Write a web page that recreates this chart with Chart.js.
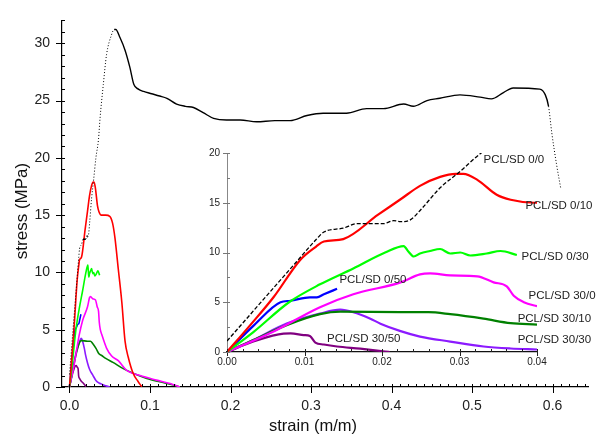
<!DOCTYPE html>
<html>
<head>
<meta charset="utf-8">
<script src="https://cdn.jsdelivr.net/npm/chart.js@4/dist/chart.umd.min.js"></script>
<style>
	html, body { margin: 0; padding: 0; background: #fff; }
	#wrap { position: relative; width: 597px; height: 437px; background: #fff; }
	#main { position: absolute; left: 0; top: 0; }
	#inset { position: absolute; left: 180px; top: 140px; }
</style>
</head>
<body>
<div id="wrap">
	<canvas id="main" width="597" height="437"></canvas>
	<canvas id="inset" width="417" height="235"></canvas>
</div>
<script>
// === Data ===

const seriesNames = ['PCL/SD 0/0', 'PCL/SD 0/10', 'PCL/SD 0/30', 'PCL/SD 0/50',
	'PCL/SD 30/0', 'PCL/SD 30/10', 'PCL/SD 30/30', 'PCL/SD 30/50'];
const seriesColors = ['#000000', '#ff0000', '#00ff00', '#0000ff',
	'#ff00ff', '#008000', '#8c1aff', '#800080'];

// [strain, stress]
const pcl_0_0 = [[0, 1.1], [0.009, 9.1], [0.0115, 11.3], [0.0125, 12.06], [0.015, 12.45], [0.0168, 12.9],
	[0.0202, 12.9], [0.0215, 13.2], [0.0224, 13.1], [0.0237, 13.3], [0.025, 14.3], [0.0275, 16.5],
	[0.030, 18.1], [0.0328, 20.0], [0.036, 21.6], [0.038, 23.5], [0.042, 26.4], [0.046, 29.0],
	[0.052, 30.7], [0.0555, 31.2], [0.0575, 31.2], [0.0627, 30.5], [0.069, 29.4], [0.075, 27.9],
	[0.080, 26.4], [0.0855, 26.0], [0.092, 25.8], [0.102, 25.6], [0.112, 25.4], [0.121, 25.2],
	[0.133, 24.7], [0.144, 24.5], [0.154, 24.4], [0.166, 23.95], [0.179, 23.45], [0.195, 23.3],
	[0.212, 23.3], [0.2325, 23.15], [0.255, 23.25], [0.274, 23.25], [0.295, 23.7], [0.315, 23.9],
	[0.344, 23.9], [0.369, 24.3], [0.390, 24.3], [0.415, 24.7], [0.427, 24.5], [0.444, 25.0],
	[0.460, 25.2], [0.485, 25.5], [0.510, 25.3], [0.524, 25.15], [0.539, 25.7], [0.551, 26.1],
	[0.584, 26.0], [0.591, 25.5], [0.595, 24.5], [0.599, 22.2], [0.605, 19.4], [0.610, 17.4]];
const pcl_0_10 = [[0, 0], [0.003, 2.7], [0.006, 5.5], [0.0095, 9.3], [0.0115, 10.6], [0.0125, 11.1],
	[0.015, 11.35], [0.0195, 13.8], [0.0224, 15.35], [0.0249, 16.7], [0.0275, 17.6], [0.0295, 17.9],
	[0.0305, 17.9], [0.0323, 17.3], [0.0348, 15.8], [0.0366, 15.3], [0.0396, 15.0], [0.045, 15.0],
	[0.050, 14.9], [0.0535, 14.3], [0.0565, 13.0], [0.0606, 10.3], [0.065, 7.4], [0.069, 4.0],
	[0.073, 2.6], [0.079, 1.2], [0.085, 0.5], [0.090, 0]];
const pcl_0_30 = [[0, 0], [0.0034, 2.0], [0.008, 5.0], [0.012, 6.8], [0.0163, 8.4], [0.0204, 10.0],
	[0.0228, 10.65], [0.0234, 10.1], [0.0241, 9.6], [0.0249, 9.9], [0.0262, 10.15], [0.0275, 10.35],
	[0.0288, 9.9], [0.0301, 10.0], [0.0314, 9.7], [0.0335, 9.9], [0.0353, 10.15], [0.0374, 9.75]];
const pcl_0_50 = [[0, 0], [0.0035, 2.7], [0.0069, 5.0], [0.0082, 5.15], [0.0107, 5.5], [0.0116, 5.5],
	[0.0125, 5.8], [0.0142, 6.35]];
const pcl_30_0 = [[0, 0], [0.0056, 1.9], [0.012, 4.5], [0.0163, 5.8], [0.0224, 7.0], [0.0249, 7.8],
	[0.0262, 7.9], [0.0288, 7.7], [0.0323, 7.6], [0.0344, 7.0], [0.0361, 6.6], [0.037, 5.65],
	[0.0383, 5.0], [0.040, 4.6], [0.046, 3.4], [0.0524, 2.7], [0.0606, 2.3], [0.071, 1.45],
	[0.0876, 1.0], [0.108, 0.6], [0.125, 0.3], [0.137, 0]];
const pcl_30_10 = [[0, 0], [0.0034, 1.2], [0.0077, 2.7], [0.012, 3.8], [0.0146, 4.05], [0.0224, 4.0],
	[0.026, 4.0], [0.0288, 3.8], [0.0331, 3.35], [0.0366, 2.9], [0.040, 2.75], [0.045, 2.5],
	[0.054, 2.15], [0.0668, 1.6], [0.079, 1.2], [0.096, 0.75], [0.112, 0.45], [0.129, 0.17], [0.137, 0]];
const pcl_30_30 = [[0, 0], [0.0034, 1.2], [0.0077, 2.85], [0.012, 3.85], [0.0146, 4.25], [0.0163, 4.0],
	[0.0185, 3.35], [0.0198, 2.85], [0.0224, 2.1], [0.0249, 1.55], [0.0288, 1.05], [0.0331, 0.55],
	[0.0366, 0.35], [0.040, 0.25], [0.045, 0.1], [0.050, 0]];
const pcl_30_50 = [[0, 0], [0.0034, 1.05], [0.0073, 1.85], [0.0082, 1.87], [0.0099, 1.7], [0.0107, 1.6],
	[0.0114, 0.95], [0.0125, 0.75], [0.0142, 0.55], [0.0172, 0.33], [0.0204, 0.05], [0.021, 0]];

const seriesData = [pcl_0_0, pcl_0_10, pcl_0_30, pcl_0_50, pcl_30_0, pcl_30_10, pcl_30_30, pcl_30_50];

const mainXTicks = [0, 0.1, 0.2, 0.3, 0.4, 0.5, 0.6];
const mainYTicks = [0, 5, 10, 15, 20, 25, 30];
const insetXTicks = [0, 0.01, 0.02, 0.03, 0.04];
const insetYTicks = [0, 5, 10, 15, 20];

// where each series name sits in the inset, [strain, stress]
const labelAnchors = [[0.0331, 19.3], [0.0385, 14.7], [0.038, 9.6], [0.0145, 7.3],
	[0.0389, 5.65], [0.0375, 3.3], [0.0375, 1.2], [0.0129, 1.3]];


// === Plugins ===

const FONT = '"Liberation Sans", Arial, sans-serif';
Chart.defaults.font.family = FONT;
Chart.defaults.color = '#222';

function stepValues(scale, step) {
	const out = [];
	for (let i = Math.ceil(scale.min / step - 1e-6); i * step <= scale.max + 1e-9; i++)
		out.push(i * step);
	return out;
}

// major ticks outward, minor ticks inward
const axisTicks = {
	id: 'axisTicks',
	afterDraw(chart, args, o) {
		const { ctx, chartArea: a, scales: { x, y } } = chart;
		ctx.save();
		ctx.lineWidth = 1;
		ctx.strokeStyle = o.xColor;
		ctx.beginPath();
		stepValues(x, o.xMinor).forEach(v => {
			const px = Math.round(x.getPixelForValue(v)) + 0.5;
			ctx.moveTo(px, a.bottom);
			ctx.lineTo(px, a.bottom - o.minorLen);
		});
		x.ticks.forEach(t => {
			const px = Math.round(x.getPixelForValue(t.value)) + 0.5;
			ctx.moveTo(px, a.bottom);
			ctx.lineTo(px, a.bottom + o.majorLen);
		});
		ctx.stroke();
		ctx.strokeStyle = o.yColor;
		ctx.beginPath();
		stepValues(y, o.yMinor).forEach(v => {
			const py = Math.round(y.getPixelForValue(v)) + 0.5;
			ctx.moveTo(a.left, py);
			ctx.lineTo(a.left + o.minorLen, py);
		});
		y.ticks.forEach(t => {
			const py = Math.round(y.getPixelForValue(t.value)) + 0.5;
			ctx.moveTo(a.left, py);
			ctx.lineTo(a.left - o.majorLen, py);
		});
		ctx.stroke();
		ctx.restore();
	}
};

const axisTitles = {
	id: 'axisTitles',
	afterDraw(chart) {
		const ctx = chart.ctx;
		ctx.save();
		ctx.fillStyle = '#111';
		ctx.textAlign = 'center';
		ctx.textBaseline = 'middle';
		ctx.font = '16.5px ' + FONT;
		ctx.fillText('strain (m/m)', 313, 426);
		ctx.translate(22, 211);
		ctx.rotate(-Math.PI / 2);
		ctx.font = '17px ' + FONT;
		ctx.fillText('stress (MPa)', 0, 0);
		ctx.restore();
	}
};

const seriesLabels = {
	id: 'seriesLabels',
	afterDraw(chart) {
		const { ctx, scales: { x, y } } = chart;
		ctx.save();
		ctx.font = '11.5px ' + FONT;
		ctx.fillStyle = '#222';
		ctx.textBaseline = 'middle';
		labelAnchors.forEach((p, i) => {
			ctx.fillText(seriesNames[i], x.getPixelForValue(p[0]), y.getPixelForValue(p[1]));
		});
		ctx.restore();
	}
};


// === Charts ===

// thin dotted where the black curve climbs or drops steeply
function isSteep(c) {
	const dx = Math.abs(c.p1.x - c.p0.x);
	const dy = c.p0.y - c.p1.y;
	return (dy > 1.5 * dx) || (Math.abs(dy) > 5 * dx);
}

function makeDatasets(inset) {
	return seriesData.map((pts, i) => {
		const black = i === 0;
		const ds = {
			label: seriesNames[i],
			data: pts.map(p => ({ x: p[0], y: p[1] })),
			borderColor: seriesColors[i],
			borderWidth: inset ? (black ? 1.3 : 2.2) : (black ? 1.4 : 1.6),
			pointRadius: 0,
			fill: false,
			cubicInterpolationMode: 'monotone'
		};
		if (black && inset)
			ds.borderDash = [4, 2];
		if (black && !inset)
			ds.segment = {
				borderDash: c => isSteep(c) ? [1, 2] : undefined,
				borderWidth: c => isSteep(c) ? 1 : 1.4
			};
		return ds;
	});
}

function fixedTicks(values) {
	return scale => { scale.ticks = values.map(v => ({ value: v })); };
}

new Chart(document.getElementById('main'), {
	type: 'line',
	data: { datasets: makeDatasets(false) },
	plugins: [axisTicks, axisTitles],
	options: {
		responsive: false,
		animation: false,
		layout: { padding: { left: 0, right: 9, top: 13, bottom: 0 } },
		plugins: {
			legend: { display: false },
			tooltip: { enabled: false },
			axisTicks: { xMinor: 0.01, yMinor: 1, minorLen: 3, majorLen: 6, xColor: '#000', yColor: '#000' }
		},
		scales: {
			x: {
				type: 'linear',
				min: -0.0093,
				max: 0.644,
				grid: { display: false, drawTicks: false },
				border: { display: true, color: '#000', width: 1.2 },
				afterBuildTicks: fixedTicks(mainXTicks),
				afterFit: s => { s.height = 50; },
				ticks: { font: { size: 14 }, padding: 11, maxRotation: 0, autoSkip: false,
					callback: v => v.toFixed(1) }
			},
			y: {
				type: 'linear',
				min: 0,
				max: 32,
				grid: { display: false, drawTicks: false },
				border: { display: true, color: '#000', width: 1.2 },
				afterBuildTicks: fixedTicks(mainYTicks),
				afterFit: s => { s.width = 62; },
				ticks: { font: { size: 14 }, padding: 12, autoSkip: false }
			}
		}
	}
});

new Chart(document.getElementById('inset'), {
	type: 'line',
	data: { datasets: makeDatasets(true) },
	plugins: [axisTicks, seriesLabels],
	options: {
		responsive: false,
		animation: false,
		layout: { padding: { left: 0, right: 60, top: 9, bottom: 0 } },
		plugins: {
			legend: { display: false },
			tooltip: { enabled: false },
			axisTicks: { xMinor: 0.002, yMinor: 2.5, minorLen: 3, majorLen: 4, xColor: '#222', yColor: '#777' }
		},
		scales: {
			x: {
				type: 'linear',
				min: 0,
				max: 0.04,
				grid: { display: false, drawTicks: false },
				border: { display: true, color: '#111', width: 1.3 },
				afterBuildTicks: fixedTicks(insetXTicks),
				afterFit: s => { s.height = 23; },
				ticks: { font: { size: 10 }, padding: 4, maxRotation: 0, autoSkip: false,
					callback: v => v.toFixed(2) }
			},
			y: {
				type: 'linear',
				min: 0,
				max: 20,
				grid: { display: false, drawTicks: false },
				border: { display: true, color: '#888', width: 1 },
				afterBuildTicks: fixedTicks(insetYTicks),
				afterFit: s => { s.width = 47; },
				ticks: { font: { size: 10 }, padding: 7, autoSkip: false }
			}
		}
	}
});
</script>
</body>
</html>
